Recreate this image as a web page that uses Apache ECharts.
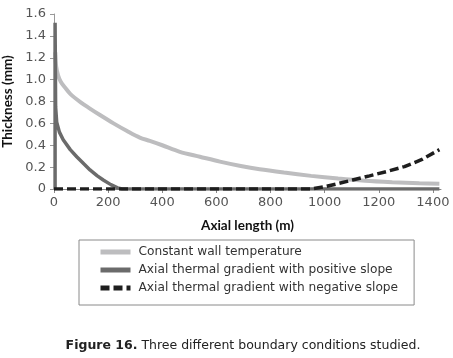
<!DOCTYPE html>
<html lang="en">
<head>
    <meta charset="UTF-8" />
    <title>Figure 16</title>
    <script src="https://cdn.jsdelivr.net/npm/echarts@6/dist/echarts.min.js"></script>
    <style>
        html, body { margin: 0; padding: 0; background: #fff; }
    </style>
</head>
<body>
    <div style="width: 453px; height: 358px" id="chart"></div>
    <script>
        const myChart = echarts.init(document.getElementById("chart"));

        // x 轴刻度
        const xTicks = [0, 200, 400, 600, 800, 1000, 1200, 1400];
        const seriesNames = [
            "Constant wall temperature",
            "Axial thermal gradient with positive slope",
            "Axial thermal gradient with negative slope",
        ];
        // [axial length (m), thickness (mm)]
        const constWall = [
            [5, 1.25], [8, 1.12], [15, 1.04], [25, 0.98], [40, 0.93], [60, 0.87],
            [100, 0.79], [130, 0.74], [170, 0.676], [220, 0.6], [270, 0.53], [317, 0.47],
            [354, 0.44], [400, 0.4], [465, 0.34], [539, 0.295], [613, 0.25], [690, 0.21],
            [760, 0.18], [850, 0.15], [950, 0.12], [1050, 0.095], [1150, 0.075],
            [1250, 0.062], [1350, 0.052], [1424, 0.047],
        ];
        const posSlope = [
            [4, 0], [4, 1.52], [6, 0.75], [10, 0.61], [20, 0.52], [34, 0.45], [60, 0.36],
            [84, 0.295], [110, 0.23], [133, 0.174], [160, 0.12], [182, 0.082], [210, 0.04],
            [235, 0.01], [252, 0], [1424, 0],
        ];
        const negSlope = [
            [0, 0], [950, 0], [1000, 0.02], [1050, 0.05], [1103, 0.082], [1166, 0.12],
            [1230, 0.16], [1295, 0.205], [1360, 0.27], [1424, 0.36],
        ];

        const labelFont = "DejaVu Sans";
        const textFont = "DejaVu Sans";

        option = {
            animation: false,
            grid: {
                left: 54,
                right: 12,
                top: 14,
                bottom: 169,
                outerBoundsMode: "none",
            },
            xAxis: {
                type: "value",
                min: 0,
                max: 1430,
                interval: 200,
                name: "Axial length (m)",
                nameLocation: "middle",
                nameGap: 30,
                nameTextStyle: { fontFamily: "Lato", fontWeight: "bold", fontSize: 13.5, color: "#111" },
                axisLine: { lineStyle: { color: "#888", width: 1 } },
                axisTick: { customValues: xTicks, length: 4, lineStyle: { color: "#888" } },
                axisLabel: {
                    customValues: xTicks,
                    formatter: (v) => String(v),
                    margin: 7,
                    fontFamily: labelFont,
                    fontSize: 13,
                    color: "#555",
                },
                splitLine: { show: false },
            },
            yAxis: {
                type: "value",
                min: 0,
                max: 1.6,
                interval: 0.2,
                name: "Thickness (mm)",
                nameLocation: "middle",
                nameGap: 35,
                nameTextStyle: { fontFamily: "Lato", fontWeight: "bold", fontSize: 13.5, color: "#111" },
                axisLine: { show: true, lineStyle: { color: "#999", width: 1 } },
                axisTick: { show: true, length: 4, lineStyle: { color: "#999" } },
                axisLabel: {
                    formatter: (v) => (v === 0 ? "0" : v.toFixed(1)),
                    margin: 8,
                    fontFamily: labelFont,
                    fontSize: 13,
                    color: "#555",
                },
                splitLine: { show: false },
            },
            legend: {
                orient: "vertical",
                left: 79,
                top: 240,
                padding: [6, 16, 11, 19],
                itemWidth: 30,
                itemHeight: 14,
                itemGap: 6,
                borderColor: "#8a8a8a",
                borderWidth: 1,
                itemStyle: { opacity: 0 },
                textStyle: { fontFamily: textFont, fontSize: 12.2, color: "#333", padding: [0, 0, 0, 3] },
                data: [
                    { name: seriesNames[0], lineStyle: { width: 5 } },
                    { name: seriesNames[1], lineStyle: { width: 5 } },
                    { name: seriesNames[2], lineStyle: { width: 5 } },
                ],
            },
            graphic: [
                {
                    type: "text",
                    x: 243,
                    y: 346,
                    style: {
                        text: "{b|Figure 16.} Three different boundary conditions studied.",
                        align: "center",
                        verticalAlign: "middle",
                        fontFamily: textFont,
                        fontSize: 12.5,
                        fill: "#222",
                        rich: {
                            b: { fontFamily: textFont, fontSize: 12.5, fontWeight: "bold", fill: "#222" },
                        },
                    },
                },
            ],
            series: [
                {
                    name: seriesNames[0],
                    type: "line",
                    data: constWall,
                    symbol: "none",
                    smooth: 0.3,
                    lineStyle: { color: "#bdbdbf", width: 4 },
                    itemStyle: { color: "#bdbdbf" },
                },
                {
                    name: seriesNames[1],
                    type: "line",
                    data: posSlope,
                    symbol: "none",
                    lineStyle: { color: "#6b6b6b", width: 3.5 },
                    itemStyle: { color: "#6b6b6b" },
                },
                {
                    name: seriesNames[2],
                    type: "line",
                    data: negSlope,
                    symbol: "none",
                    lineStyle: { color: "#1e1e1e", width: 3.5, type: [9, 4] },
                    itemStyle: { color: "#1e1e1e" },
                },
            ],
        };

        myChart.setOption(option);
    </script>
</body>
</html>
